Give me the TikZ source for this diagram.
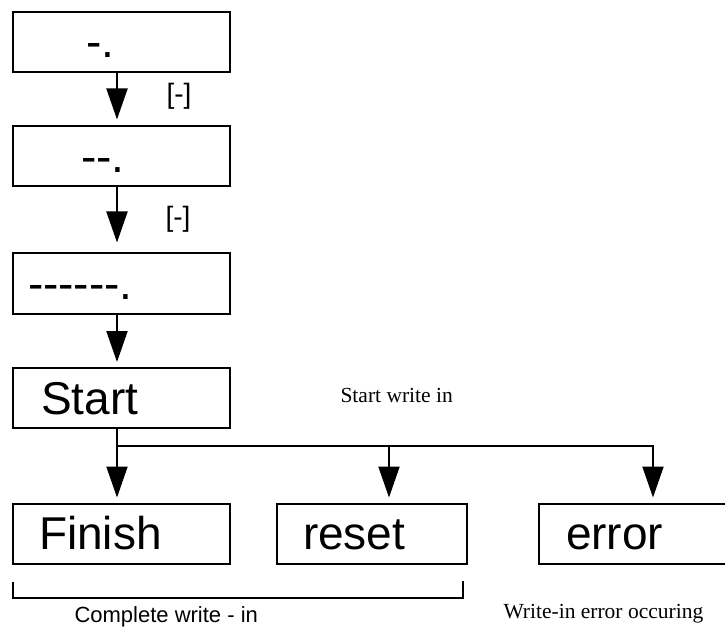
\documentclass[tikz,border=0pt]{standalone}
\usepackage{fontspec}
\newfontfamily\sansFamily{Liberation Sans}
\newfontfamily\serifFamily{Liberation Serif}
\usetikzlibrary{arrows.meta}

% A hyphen that is never joined into a dash
\newcommand{\hyph}{\mbox{-}}

\begin{document}
\begin{tikzpicture}[x=1pt, y=-1pt,
    box/.style={draw, line width=2pt, inner sep=0pt, text width=#1,
      text height=46pt, text depth=14pt, align=left,
      font=\sansFamily\fontsize{46}{50}\selectfont},
    box/.default=217pt,
    flow/.style={line width=2pt, -{Triangle[width=21pt,length=31pt]}},
    guard/.style={anchor=base, font=\sansFamily\fontsize{28}{32}\selectfont},
    note/.style={anchor=base west, font=\serifFamily\fontsize{21.5}{26}\selectfont}]

  % Fix the page size
  \useasboundingbox (0,0) rectangle (725,628);
  \clip (0,0) rectangle (725,628);

  % Draw the chain of boxes
  \node[box] (dashOne) at (121.5,42) {\hspace*{73pt}\hyph.};
  \node[box] (dashTwo) at (121.5,156.5) {\hspace*{68pt}\hyph\hyph.};
  \node[box] (dashSix) at (121.5,283.5) {\hspace*{15pt}\hyph\hyph\hyph\hyph\hyph\hyph.};
  \node[box] (start) at (121.5,398) {\hspace*{28pt}Start};

  % Draw the three outcomes
  \node[box] (finish) at (121.5,533.5) {\hspace*{26pt}Finish};
  \node[box=190pt] (reset) at (372,533.5) {\hspace*{26pt}reset};
  \node[box] (error) at (647.5,533.5) {\hspace*{27pt}error};

  % Arrows down the chain
  \draw[flow, shorten >=6pt] ([xshift=-4.5pt]dashOne.south) -- ([xshift=-4.5pt]dashTwo.north);
  \draw[flow, shorten >=10pt] ([xshift=-4.5pt]dashTwo.south) -- ([xshift=-4.5pt]dashSix.north);
  \draw[flow, shorten >=5pt] ([xshift=-4.5pt]dashSix.south) -- ([xshift=-4.5pt]start.north);

  % Split into the outcomes
  \coordinate (split) at (117,446);
  \coordinate (splitM) at (389,446);
  \coordinate (splitR) at (653,446);
  \draw[flow, shorten >=5pt] ([xshift=-4.5pt]start.south) -- (split |- finish.north);
  \draw[flow, shorten >=5pt] (splitM) -- (splitM |- reset.north);
  \draw[flow, shorten >=5pt] (split) -- (splitR) -- (splitR |- error.north);

  % Labels
  \node[guard] (guardOne) at (179,104) {[-]};
  \node[guard] (guardTwo) at (178,227) {[-]};
  \node[note] (startNote) at (337,402) {Start write in};
  \node[note] (errorNote) at (500,618) {Write-in error occuring};

  % Bracket under finish and reset
  \draw[line width=2pt] (13,582) -- (13,598) -- (463,598) -- (463,581);
  \node[anchor=base west, font=\sansFamily\fontsize{22}{26}\selectfont] (completeNote) at (71,622) {Complete write - in};

\end{tikzpicture}
\end{document}
